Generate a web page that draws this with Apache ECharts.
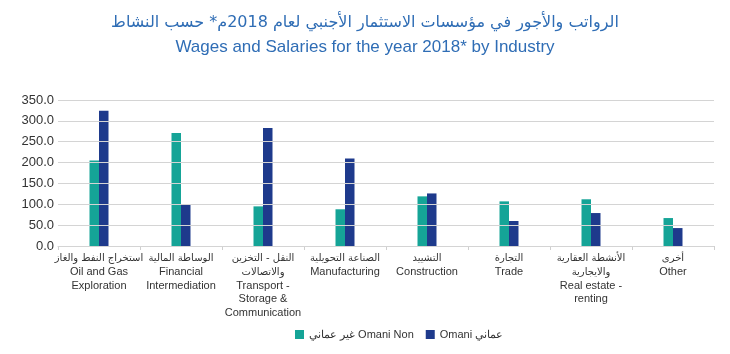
<!DOCTYPE html>
<html>
<head>
<meta charset="utf-8">
<script src="https://cdn.jsdelivr.net/npm/echarts@6/dist/echarts.min.js"></script>
<style>
  html, body { margin: 0; padding: 0; background: #fff; }
</style>
</head>
<body>
<div id="main" style="width: 730px;height:354px;"></div>
<script>
// categories (Arabic + English label lines)
var categories = [
  "استخراج النفط والغاز\nOil and Gas\nExploration",
  "الوساطة المالية\nFinancial\nIntermediation",
  "النقل - التخزين\nوالاتصالات\nTransport -\nStorage &\nCommunication",
  "الصناعة التحويلية\nManufacturing",
  "التشييد\nConstruction",
  "التجارة\nTrade",
  "الأنشطة العقارية\nوالايجارية\nReal estate -\nrenting",
  "أخرى\nOther"
];
var nonOmani = [205, 271, 95, 88, 119, 107, 112, 67];
var omani = [324, 100, 283, 210, 126, 60, 79, 43];
var seriesNames = ["غير عماني Omani Non", "Omani عماني"];

var myChart = echarts.init(document.getElementById("main"));
var option = {
  title: [
    {
      text: "الرواتب والأجور في مؤسسات الاستثمار الأجنبي لعام 2018م* حسب النشاط",
      left: "center",
      top: 10,
      textStyle: { color: "#2f6db5", fontSize: 16, fontWeight: "normal", fontFamily: "DejaVu Sans" }
    },
    {
      text: "Wages and Salaries for the year 2018* by Industry",
      left: "center",
      top: 34,
      textStyle: { color: "#2f6db5", fontSize: 17, fontWeight: "normal", fontFamily: "Liberation Sans" }
    }
  ],
  legend: {
    bottom: 9,
    left: 290,
    itemWidth: 9,
    itemHeight: 9,
    itemGap: 12,
    icon: "rect",
    textStyle: { color: "#333", fontSize: 11, fontFamily: "Liberation Sans" },
    data: seriesNames
  },
  grid: { left: 58, right: 16, top: 100, bottom: 108 },
  xAxis: {
    type: "category",
    data: categories,
    axisLine: { lineStyle: { color: "#cfcfcf" } },
    axisTick: { show: true, length: 4, lineStyle: { color: "#cfcfcf" } },
    axisLabel: {
      interval: 0,
      margin: 6,
      formatter: function (v) {
        return v.split("\n").map(function (s) {
          return /[\u0600-\u06ff]/.test(s) ? "{ar|" + s + "}" : "{en|" + s + "}";
        }).join("\n");
      },
      rich: {
        ar: { color: "#333", fontSize: 10, lineHeight: 13.5, fontFamily: "DejaVu Sans" },
        en: { color: "#333", fontSize: 11, lineHeight: 13.5, fontFamily: "Liberation Sans" }
      }
    }
  },
  yAxis: {
    type: "value",
    min: 0,
    max: 350,
    interval: 50,
    z: 5,
    axisLine: { show: false },
    axisTick: { show: false },
    splitLine: { lineStyle: { color: "#d4d4d4" } },
    axisLabel: {
      color: "#333",
      fontSize: 13,
      margin: 4,
      fontFamily: "Liberation Sans",
      formatter: function (v) { return v.toFixed(1); }
    }
  },
  series: [
    {
      name: seriesNames[0],
      type: "bar",
      data: nonOmani,
      barWidth: 9.5,
      barGap: "0%",
      itemStyle: { color: "#15a497" }
    },
    {
      name: seriesNames[1],
      type: "bar",
      data: omani,
      barWidth: 9.5,
      barGap: "0%",
      itemStyle: { color: "#1e3a8c" }
    }
  ]
};
myChart.setOption(option);
</script>
</body>
</html>
